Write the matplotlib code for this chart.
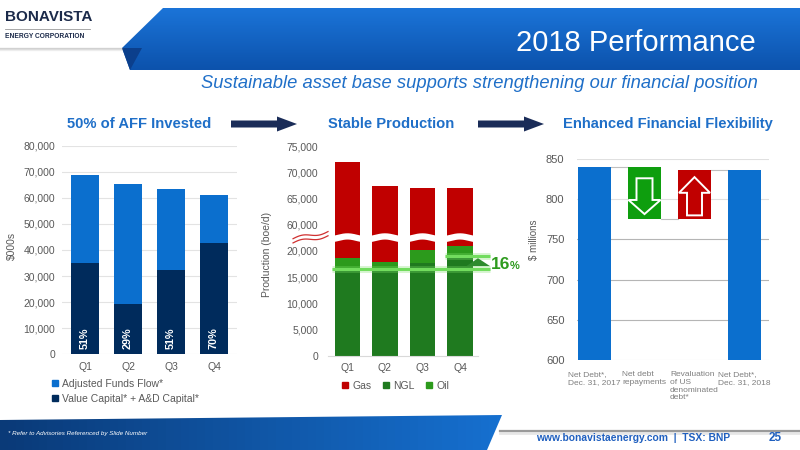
import numpy as np
import matplotlib
matplotlib.use("Agg")
import matplotlib.pyplot as plt
from matplotlib.patches import Polygon
from matplotlib.lines import Line2D
from matplotlib.ticker import FixedLocator, FuncFormatter, NullLocator
import matplotlib.transforms as mtransforms

plt.rcParams['font.family'] = ['Liberation Sans', 'DejaVu Sans']

# ---- data -------------------------------------------------------------
quarters = ['Q1', 'Q2', 'Q3', 'Q4']

# left: AFF vs capital ($000s)
aff = [69000, 65500, 63500, 61000]
capital = [35000, 19100, 32300, 42700]
invested_pct = ['51%', '29%', '51%', '70%']

# middle: production (boe/d)
ngl = [16500, 16700, 17800, 19000]
oil = [2200, 1300, 2400, 2000]
gas = [53300, 49300, 46800, 46000]
liquids_growth = '16'

# right: net debt waterfall ($ millions)
debt_labels = ['Net Debt*,\nDec. 31, 2017', 'Net debt\nrepayments',
               'Revaluation\nof US\ndenominated\ndebt*', 'Net Debt*,\nDec. 31, 2018']
debt_start = 840
debt_changes = [-65, 61]
debt_end = 836

# ---- colours ----------------------------------------------------------
BLUE = '#0b6fce'
NAVY = '#002b5c'
RED = '#c00000'
DKGREEN = '#1f7a1f'
LTGREEN = '#2c9a1c'
WGREEN = '#0e9e0e'
TXT = '#595959'
HEAD = '#1f6fc8'

W, H = 800, 450
fig = plt.figure(figsize=(8, 4.5), dpi=100)


def px(l, t, r, b):
    return [l / W, 1 - b / H, (r - l) / W, (b - t) / H]


# background / slide decoration axes in pixel coords
bg = fig.add_axes([0, 0, 1, 1])
bg.set_xlim(0, W)
bg.set_ylim(H, 0)
bg.axis('off')

# header banner
banner = Polygon([(163, 8), (800, 8), (800, 70), (130, 70), (122, 48)],
                 closed=True, facecolor='none', edgecolor='none')
bg.add_patch(banner)
grad = np.linspace(0, 1, 64).reshape(-1, 1)
cmap_b = matplotlib.colors.LinearSegmentedColormap.from_list('b', ['#1b74d8', '#0c52ac'])
im = bg.imshow(grad, extent=(0, 800, 70, 8), cmap=cmap_b, aspect='auto', zorder=1)
im.set_clip_path(banner)
bg.add_patch(Polygon([(122, 48), (142, 48), (130, 70)], closed=True,
                     facecolor='#0b3f8c', edgecolor='none', zorder=2))
for k, a in enumerate([0.35, 0.22, 0.1]):
    bg.plot([0, 122], [48 + k, 48 + k], color='#888888', alpha=a, lw=1, zorder=2)

bg.text(756, 43, '2018 Performance', color='white', fontsize=21,
        ha='right', va='center', zorder=3)
bg.text(758, 83, 'Sustainable asset base supports strengthening our financial position',
        color=HEAD, fontsize=13.2, style='italic', ha='right', va='center')

# logo
bg.text(5, 17, 'BONAVISTA', fontweight='bold', fontsize=11,
        color='#1b2a4a', ha='left', va='center')
bg.plot([5, 90], [29, 29], color='#9a9a9a', lw=0.6)
bg.text(5, 36, 'ENERGY CORPORATION', fontweight='bold', fontsize=4.8,
        color='#1b2a4a', ha='left', va='center')

# section headings and arrows
for txt, cx in [('50% of AFF Invested', 139), ('Stable Production', 391),
                ('Enhanced Financial Flexibility', 668)]:
    bg.text(cx, 124, txt, fontweight='bold', fontsize=10.6,
            color=HEAD, ha='center', va='center')
for x0 in [231, 478]:
    bg.add_patch(Polygon([(x0, 120.5), (x0 + 46, 120.5), (x0 + 46, 116.5), (x0 + 66, 124),
                          (x0 + 46, 131.5), (x0 + 46, 127.5), (x0, 127.5)],
                         closed=True, facecolor='#1a2c58', edgecolor='none'))

# footer
foot = Polygon([(0, 420), (502, 415), (487, 450), (0, 450)], closed=True,
               facecolor='none', edgecolor='none')
bg.add_patch(foot)
cmap_f = matplotlib.colors.LinearSegmentedColormap.from_list('f', ['#0a3a78', '#1670d0'])
imf = bg.imshow(np.linspace(0, 1, 64).reshape(1, -1), extent=(0, 505, 450, 414),
                cmap=cmap_f, aspect='auto', zorder=1)
imf.set_clip_path(foot)
bg.plot([500, 800], [431, 431], color='#9a9a9a', lw=1.6, zorder=2)
bg.plot([500, 800], [433, 433], color='#cfcfcf', lw=2, alpha=0.5, zorder=2)
bg.text(8, 433, '* Refer to Advisories Referenced by Slide Number', color='white',
        fontsize=4.5, style='italic', ha='left', va='center', zorder=3)
bg.text(536, 438, 'www.bonavistaenergy.com  |  TSX: BNP',
        fontweight='bold', fontsize=7.4, color='#1f5fbf', ha='left', va='center')
bg.text(775, 438, '25', fontweight='bold', fontsize=8.5,
        color='#1f5fbf', ha='center', va='center')

thousands = FuncFormatter(lambda v, p: '{:,.0f}'.format(v))


def clean(ax):
    for s in ax.spines.values():
        s.set_visible(False)
    ax.set_facecolor('none')
    ax.tick_params(length=0, labelsize=7.5, labelcolor=TXT)


# ---- left chart -------------------------------------------------------
ax1 = fig.add_axes(px(62, 146, 237, 354))
x = np.arange(len(quarters))
ax1.bar(x, aff, width=0.67, color=BLUE, zorder=2)
ax1.bar(x, capital, width=0.67, color=NAVY, zorder=3)
for i, p in enumerate(invested_pct):
    ax1.text(i, 2000, p, rotation=90, ha='center', va='bottom', color='white',
             fontweight='bold', fontsize=7.8, zorder=4)
ax1.set_xlim(-0.535, 3.535)
ax1.set_ylim(0, 80000)
ax1.set_yticks(np.arange(0, 80001, 10000))
ax1.yaxis.set_major_formatter(thousands)
ax1.set_xticks(x)
ax1.set_xticklabels(quarters)
ax1.yaxis.grid(True, color='#e3e3e3', lw=0.8)
ax1.set_axisbelow(True)
clean(ax1)
ax1.tick_params(axis='x', pad=6)
ax1.tick_params(axis='y', pad=5)
ax1.set_ylabel('$000s', fontsize=7.5, color=TXT)
ax1.yaxis.set_label_coords(-0.257, 0.52)
fig.legend([Line2D([], [], marker='s', ls='none', color=BLUE, markersize=4.5),
            Line2D([], [], marker='s', ls='none', color=NAVY, markersize=4.5)],
           ['Adjusted Funds Flow*', 'Value Capital* + A&D Capital*'],
           loc='upper left', bbox_to_anchor=(51 / W, 1 - 379 / H), frameon=False,
           fontsize=7.5, labelcolor=TXT, handlelength=0.8, handletextpad=0.3,
           labelspacing=0.45, borderpad=0, borderaxespad=0)

# ---- middle chart (broken axis) --------------------------------------
BRK, GAP = 22500, 35000


def fwd(v):
    v = np.asarray(v, dtype=float)
    return np.where(v <= BRK, v, np.maximum(v - GAP, BRK))


def inv(u):
    u = np.asarray(u, dtype=float)
    return np.where(u <= BRK, u, u + GAP)


ax2 = fig.add_axes(px(328, 146, 478, 356))
ax2.set_yscale('function', functions=(fwd, inv))
ngl_a = np.array(ngl)
oil_a = np.array(oil)
ax2.bar(x, ngl, width=0.67, color=DKGREEN, zorder=2)
ax2.bar(x, oil, width=0.67, bottom=ngl_a, color=LTGREEN, zorder=2)
ax2.bar(x, gas, width=0.67, bottom=ngl_a + oil_a, color=RED, zorder=2)
ax2.set_xlim(-0.52, 3.48)
ax2.set_ylim(0, 75000)
ax2.yaxis.set_major_locator(FixedLocator([0, 5000, 10000, 15000, 20000,
                                          60000, 65000, 70000, 75000]))
ax2.yaxis.set_minor_locator(NullLocator())
ax2.yaxis.set_major_formatter(thousands)
ax2.set_xticks(x)
ax2.set_xticklabels(quarters)
clean(ax2)
ax2.spines['bottom'].set_visible(True)
ax2.spines['bottom'].set_color('#d9d9d9')
ax2.tick_params(axis='x', pad=5)
ax2.tick_params(axis='y', pad=7)
ax2.set_ylabel('Production (boe/d)', fontsize=7.5, color=TXT)
ax2.yaxis.set_label_coords(-0.373, 0.486)

# white wavy break through bars
blend = mtransforms.blended_transform_factory(ax2.transData, ax2.transAxes)
ybrk = BRK / float(fwd(75000))
xs = np.linspace(-0.45, 3.45, 300)
ax2.plot(xs, ybrk + 0.007 * np.sin(2 * np.pi * (xs + 0.25)), color='white',
         lw=4.5, transform=blend, zorder=5, solid_capstyle='butt')
# red break marks on the axis
t = np.linspace(0, 1, 60)
for off in [0.0, 0.02]:
    ax2.plot(-0.233 + 0.233 * t, ybrk - 0.024 + off + 0.034 * t + 0.008 * np.sin(2 * np.pi * t),
             color='#d03030', lw=0.9, transform=ax2.transAxes, clip_on=False)

# liquids growth markers
lo, hi = ngl[0], ngl[-1]
for y0, x_from in [(lo, -0.41), (hi, 2.6)]:
    ax2.plot([x_from, 3.8], [y0, y0], color='#7be069', lw=5, alpha=0.3,
             clip_on=False, zorder=6, solid_capstyle='butt')
    ax2.plot([x_from, 3.8], [y0, y0], color='#72dc5e', lw=2.2,
             clip_on=False, zorder=6, solid_capstyle='butt')
ax2.add_patch(Polygon([(3.17, lo + 0.25 * (hi - lo)), (3.48, lo + 0.85 * (hi - lo)),
                       (3.8, lo + 0.25 * (hi - lo))], closed=True,
                      facecolor='#2e8b2e', edgecolor='none', clip_on=False, zorder=7))
ax2.text(3.82, (lo + hi) / 2 - 300, liquids_growth, color='#2e9b1e', fontweight='bold',
         fontsize=12.5, ha='left', va='center', zorder=7)
ax2.text(4.33, (lo + hi) / 2 - 600, '%', color='#2e9b1e', fontweight='bold',
         fontsize=8, ha='left', va='center', zorder=7)

fig.legend([Line2D([], [], marker='s', ls='none', color=c, markersize=4.5)
            for c in [RED, DKGREEN, LTGREEN]],
           ['Gas', 'NGL', 'Oil'], loc='upper left', ncol=3,
           bbox_to_anchor=(341 / W, 1 - 381 / H), frameon=False, fontsize=7.5,
           labelcolor=TXT, handlelength=0.8, handletextpad=0.3, columnspacing=1.0,
           borderpad=0, borderaxespad=0)

# ---- right chart (waterfall) -----------------------------------------
ax3 = fig.add_axes(px(577, 159, 769, 360))
bw = 0.66
ax3.bar(0, debt_start - 600, bottom=600, width=bw, color=BLUE, zorder=3)
run = debt_start
levels = [debt_start]
for k, ch in enumerate(debt_changes, start=1):
    b0, b1 = min(run, run + ch), max(run, run + ch)
    col = WGREEN if ch < 0 else RED
    ax3.bar(k, b1 - b0, bottom=b0, width=bw, color=col, zorder=3)
    h = b1 - b0
    if ch < 0:
        arrow = [(k - 0.16, b1 - 0.215 * h), (k + 0.16, b1 - 0.215 * h),
                 (k + 0.16, b1 - 0.63 * h), (k + 0.32, b1 - 0.63 * h),
                 (k, b0 + 0.1 * h), (k - 0.32, b1 - 0.63 * h), (k - 0.16, b1 - 0.63 * h)]
    else:
        arrow = [(k - 0.15, b0 + 0.08 * h), (k + 0.15, b0 + 0.08 * h),
                 (k + 0.15, b1 - 0.46 * h), (k + 0.31, b1 - 0.46 * h),
                 (k, b1 - 0.14 * h), (k - 0.31, b1 - 0.46 * h), (k - 0.15, b1 - 0.46 * h)]
    ax3.add_patch(Polygon(arrow, closed=True, facecolor=col, edgecolor='white',
                          lw=1.4, zorder=4))
    run += ch
    levels.append(run)
ax3.bar(3, debt_end - 600, bottom=600, width=bw, color=BLUE, zorder=3)
for k, lv in enumerate(levels):
    ax3.plot([k + bw / 2, k + 1 - bw / 2], [lv, lv], color='#bfbfbf', lw=0.8, zorder=2)
ax3.set_xlim(-0.35, 3.49)
ax3.set_ylim(600, 850)
ax3.set_yticks(np.arange(600, 851, 50))
ax3.set_xticks(np.arange(4))
ax3.set_xticklabels(debt_labels, fontsize=6, color='#7f7f7f', linespacing=1.15,
                    va='top')
for lab in ax3.get_xticklabels():
    lab.set_multialignment('left')
ax3.yaxis.grid(True, lw=0.8)
for gl, c in zip(ax3.yaxis.get_gridlines(),
                 ['#e0e0e0', '#b5b5b5', '#b5b5b5', '#b5b5b5', '#e0e0e0', '#e0e0e0']):
    gl.set_color(c)
ax3.set_axisbelow(True)
clean(ax3)
ax3.tick_params(axis='y', labelsize=8, pad=9)
ax3.tick_params(axis='x', labelsize=6, labelcolor='#7f7f7f', pad=8)
ax3.set_ylabel('$ millions', fontsize=7, color=TXT)
ax3.yaxis.set_label_coords(-0.198, 0.60)

fig.savefig('out.png', dpi=100)
